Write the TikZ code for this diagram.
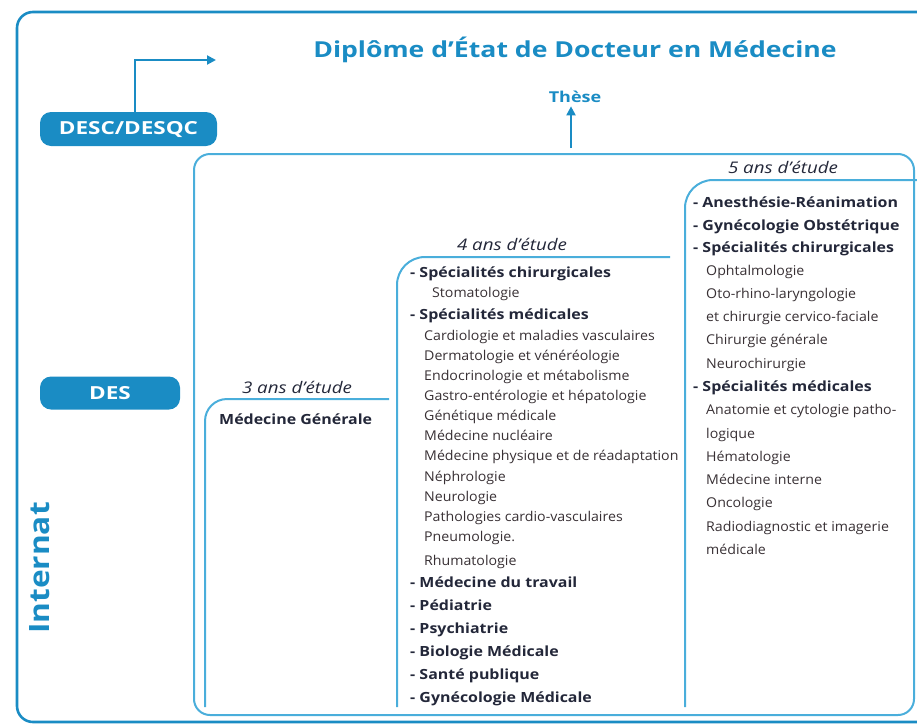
\documentclass[tikz,border=0pt]{standalone}
\usepackage{fontspec}
\setmainfont{Open Sans}
\usetikzlibrary{arrows.meta}
\definecolor{dblue}{HTML}{1A8CC4}
\definecolor{lblue}{HTML}{4AAEDB}
\definecolor{ink}{HTML}{232739}
\definecolor{ink2}{HTML}{383034}
\newcommand\wide[1]{\addfontfeature{FakeStretch=#1}}
\tikzset{
  outerline/.style={draw=dblue,line width=2.6pt},
  innerline/.style={draw=lblue,line width=2pt},
  pill/.style={fill=dblue,rounded corners=11pt,text=white,font=\fontsize{18}{18}\selectfont\bfseries\wide{1.25},inner sep=0pt},
  bluearrow/.style={draw=dblue,line width=2pt,-{Triangle[length=9pt,width=9pt]}},
  yrs/.style={anchor=base,font=\fontsize{16}{16}\selectfont\itshape\wide{1.17},text=ink},
  hd/.style={anchor=base west,font=\fontsize{14}{14}\selectfont\bfseries\wide{1.14},text=ink,inner sep=0pt},
  it/.style={anchor=base west,font=\fontsize{13.5}{13.5}\selectfont\wide{1.05},text=ink2,inner sep=0pt},
}
\begin{document}
\begin{tikzpicture}[x=1pt,y=-1pt]
\useasboundingbox (0,0) rectangle (917,723);
\clip (0,0) rectangle (917,723);
% outer box
\draw[outerline,rounded corners=16pt] (940,722) -- (17,722) -- (17,12) -- (940,12);
% inner box
\draw[innerline,rounded corners=16pt] (194,715) rectangle (914,154);
% column brackets
\draw[innerline,rounded corners=22pt] (205,707) -- (205,399) -- (389,399);
\draw[innerline,rounded corners=28pt] (397,707) -- (397,257) -- (670,257);
\draw[innerline,rounded corners=28pt] (685,707) -- (685,180) -- (940,180);
% header
\node (title) at (575,50) {\fontsize{22}{22}\selectfont\bfseries\wide{1.21}\color{dblue}Diplôme d’État de Docteur en Médecine};
\node (these) at (575,97) {\fontsize{15}{15}\selectfont\bfseries\wide{1.2}\color{dblue}Thèse};
\coordinate (theseA) at (571,148);
\draw[bluearrow] (theseA) -- (these.south -| theseA);
% pills
\node[pill,minimum width=177pt,minimum height=34pt] (desc) at (128.5,129) {DESC/DESQC};
\node[pill,minimum width=140pt,minimum height=33pt] (des) at (110,393) {DES};
\coordinate (descT) at (216,60);
\draw[bluearrow] (desc.north -| 135,0) |- (descT);
% Internat
\node[rotate=90,font=\fontsize{28}{28}\selectfont\bfseries\wide{1.13},text=dblue] (internat) at (40,568) {Internat};
% years labels
\node[yrs] (y3) at (297,393) {3 ans d’étude};
\node[yrs] (y4) at (512,250) {4 ans d’étude};
\node[yrs] (y5) at (783,173) {5 ans d’étude};
% column 1
\node[hd] (mg) at (219,424) {Médecine Générale};
% column 2
\node[hd] (c2a) at (410,277) {- Spécialités chirurgicales};
\node[it] (c2b) at (432,297) {Stomatologie};
\node[hd] (c2c) at (410,319) {- Spécialités médicales};
\node[it] (c2d) at (424,340) {Cardiologie et maladies vasculaires};
\node[it] (c2e) at (424,360) {Dermatologie et vénéréologie};
\node[it] (c2f) at (424,380) {Endocrinologie et métabolisme};
\node[it] (c2g) at (424,400) {Gastro-entérologie et hépatologie};
\node[it] (c2h) at (424,420) {Génétique médicale};
\node[it] (c2i) at (424,440) {Médecine nucléaire};
\node[it] (c2j) at (424,460) {Médecine physique et de réadaptation};
\node[it] (c2k) at (424,481) {Néphrologie};
\node[it] (c2l) at (424,501) {Neurologie};
\node[it] (c2m) at (424,521) {Pathologies cardio-vasculaires};
\node[it] (c2n) at (424,541) {Pneumologie.};
\node[it] (c2o) at (424,565) {Rhumatologie};
\node[hd] (c2p) at (410,587) {- Médecine du travail};
\node[hd] (c2q) at (410,610) {- Pédiatrie};
\node[hd] (c2r) at (410,633) {- Psychiatrie};
\node[hd] (c2s) at (410,656) {- Biologie Médicale};
\node[hd] (c2t) at (410,679) {- Santé publique};
\node[hd] (c2u) at (410,702) {- Gynécologie Médicale};
% column 3
\node[hd] (c3a) at (693,207) {- Anesthésie-Réanimation};
\node[hd] (c3b) at (693,230) {- Gynécologie Obstétrique};
\node[hd] (c3c) at (693,252) {- Spécialités chirurgicales};
\node[it] (c3d) at (706,275) {Ophtalmologie};
\node[it] (c3e) at (706,298) {Oto-rhino-laryngologie};
\node[it] (c3f) at (706,321) {et chirurgie cervico-faciale};
\node[it] (c3g) at (706,344) {Chirurgie générale};
\node[it] (c3h) at (706,368) {Neurochirurgie};
\node[hd] (c3i) at (693,391) {- Spécialités médicales};
\node[it] (c3j) at (706,414) {Anatomie et cytologie patho-};
\node[it] (c3k) at (706,438) {logique};
\node[it] (c3l) at (706,461) {Hématologie};
\node[it] (c3m) at (706,484) {Médecine interne};
\node[it] (c3n) at (706,507) {Oncologie};
\node[it] (c3o) at (706,531) {Radiodiagnostic et imagerie};
\node[it] (c3p) at (706,554) {médicale};
\end{tikzpicture}
\end{document}
